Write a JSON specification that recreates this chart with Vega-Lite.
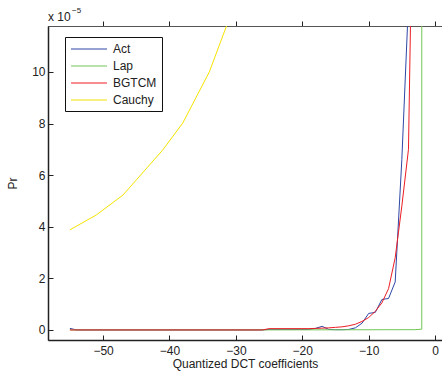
{
  "$schema": "https://vega.github.io/schema/vega-lite/v6.json",
  "width": 394,
  "height": 314,
  "autosize": {"type": "none"},
  "padding": {"left": 48, "top": 26, "right": 0, "bottom": 38},
  "background": "white",
  "config": {
    "font": "Liberation Sans",
    "view": {"stroke": "#555", "strokeWidth": 1},
    "axis": {
      "labelFont": "Liberation Sans", "labelFontSize": 12, "labelColor": "#222",
      "titleFont": "Liberation Sans", "titleFontSize": 12, "titleFontWeight": "normal", "titleColor": "#222",
      "grid": false, "domainColor": "#222", "domainWidth": 1.5, "tickColor": "#222", "tickSize": -5, "tickWidth": 1
    },
    "legend": {
      "orient": "none", "legendX": 17, "legendY": 11,
      "strokeColor": "#111", "fillColor": "white", "padding": 5,
      "symbolType": "M-1,0H5", "symbolSize": 144, "symbolStrokeWidth": 1.2,
      "labelFont": "Liberation Sans", "labelFontSize": 12, "labelColor": "#222", "labelOffset": 29, "rowPadding": 4
    }
  },
  "datasets": {
    "curves": [
      {"x": -55, "pr": 0.06, "model": "Act"},
      {"x": -54, "pr": 0.0, "model": "Act"},
      {"x": -26, "pr": 0.0, "model": "Act"},
      {"x": -25, "pr": 0.02, "model": "Act"},
      {"x": -19, "pr": 0.02, "model": "Act"},
      {"x": -18, "pr": 0.06, "model": "Act"},
      {"x": -17, "pr": 0.14, "model": "Act"},
      {"x": -16, "pr": 0.02, "model": "Act"},
      {"x": -15, "pr": 0.01, "model": "Act"},
      {"x": -14, "pr": 0.01, "model": "Act"},
      {"x": -13, "pr": 0.02, "model": "Act"},
      {"x": -12, "pr": 0.08, "model": "Act"},
      {"x": -11, "pr": 0.26, "model": "Act"},
      {"x": -10, "pr": 0.64, "model": "Act"},
      {"x": -9, "pr": 0.68, "model": "Act"},
      {"x": -8, "pr": 1.18, "model": "Act"},
      {"x": -7, "pr": 1.22, "model": "Act"},
      {"x": -6, "pr": 1.86, "model": "Act"},
      {"x": -5, "pr": 6.6, "model": "Act"},
      {"x": -4, "pr": 12.7, "model": "Act"},
      {"x": -3, "pr": 40, "model": "Act"},
      {"x": -2, "pr": 90, "model": "Act"},
      {"x": -55, "pr": 0.0, "model": "Lap"},
      {"x": -30, "pr": 0.0, "model": "Lap"},
      {"x": -3, "pr": 0.01, "model": "Lap"},
      {"x": -2, "pr": 0.03, "model": "Lap"},
      {"x": -1, "pr": 5000, "model": "Lap"},
      {"x": -55, "pr": 0.0, "model": "BGTCM"},
      {"x": -26, "pr": 0.0, "model": "BGTCM"},
      {"x": -25, "pr": 0.05, "model": "BGTCM"},
      {"x": -19, "pr": 0.05, "model": "BGTCM"},
      {"x": -18, "pr": 0.06, "model": "BGTCM"},
      {"x": -17, "pr": 0.07, "model": "BGTCM"},
      {"x": -16, "pr": 0.08, "model": "BGTCM"},
      {"x": -15, "pr": 0.1, "model": "BGTCM"},
      {"x": -14, "pr": 0.12, "model": "BGTCM"},
      {"x": -13, "pr": 0.16, "model": "BGTCM"},
      {"x": -12, "pr": 0.22, "model": "BGTCM"},
      {"x": -11, "pr": 0.33, "model": "BGTCM"},
      {"x": -10, "pr": 0.48, "model": "BGTCM"},
      {"x": -9, "pr": 0.72, "model": "BGTCM"},
      {"x": -8, "pr": 1.05, "model": "BGTCM"},
      {"x": -7, "pr": 1.6, "model": "BGTCM"},
      {"x": -6, "pr": 2.8, "model": "BGTCM"},
      {"x": -5, "pr": 4.8, "model": "BGTCM"},
      {"x": -4, "pr": 7.0, "model": "BGTCM"},
      {"x": -3, "pr": 23, "model": "BGTCM"},
      {"x": -2, "pr": 60, "model": "BGTCM"},
      {"x": -55, "pr": 3.88, "model": "Cauchy"},
      {"x": -51, "pr": 4.46, "model": "Cauchy"},
      {"x": -47, "pr": 5.23, "model": "Cauchy"},
      {"x": -41, "pr": 6.98, "model": "Cauchy"},
      {"x": -38, "pr": 8.02, "model": "Cauchy"},
      {"x": -34, "pr": 10.0, "model": "Cauchy"},
      {"x": -30, "pr": 12.75, "model": "Cauchy"},
      {"x": -26, "pr": 16.0, "model": "Cauchy"}
    ]
  },
  "layer": [
    {
      "data": {"name": "curves"},
      "mark": {"type": "line", "clip": true, "strokeWidth": 1},
      "encoding": {
        "x": {
          "field": "x", "type": "quantitative",
          "scale": {"domain": [-58.3, 1.05], "nice": false, "zero": false},
          "axis": {"values": [-50, -40, -30, -20, -10, 0], "title": "Quantized DCT coefficients", "labelPadding": 10, "titlePadding": 2}
        },
        "y": {
          "field": "pr", "type": "quantitative",
          "scale": {"domain": [-0.39, 11.78], "nice": false, "zero": false},
          "axis": {"values": [0, 2, 4, 6, 8, 10], "title": "Pr", "labelPadding": 8, "titlePadding": 12}
        },
        "color": {
          "field": "model", "type": "nominal",
          "scale": {"domain": ["Act", "Lap", "BGTCM", "Cauchy"], "range": ["#2E47A5", "#72C655", "#EC1C24", "#F4E400"]},
          "legend": {"title": null}
        },
        "order": {"field": "x", "type": "quantitative"}
      }
    },
    {
      "data": {"values": [{}]},
      "mark": {"type": "text", "align": "left", "baseline": "alphabetic", "fontSize": 12, "dy": -5.5, "color": "#222", "font": "Liberation Sans"},
      "encoding": {
        "x": {"datum": -58.3, "type": "quantitative", "axis": {"orient": "top", "labels": false, "domain": true, "domainColor": "#555", "domainWidth": 1, "title": null, "ticks": true, "tickSize": 5, "tickOffset": 0, "tickColor": "#222", "values": [-50, -40, -30, -20, -10, 0]}},
        "y": {"datum": 11.78, "type": "quantitative"},
        "text": {"value": "x 10"}
      }
    },
    {
      "data": {"values": [{}]},
      "mark": {"type": "text", "align": "left", "baseline": "alphabetic", "fontSize": 8, "dx": 24, "dy": -13, "color": "#222", "font": "Liberation Sans"},
      "encoding": {
        "x": {"datum": -58.3, "type": "quantitative", "axis": null},
        "y": {"datum": 11.78, "type": "quantitative"},
        "text": {"value": "−5"}
      }
    }
  ],
  "resolve": {"axis": {"x": "independent"}}
}
